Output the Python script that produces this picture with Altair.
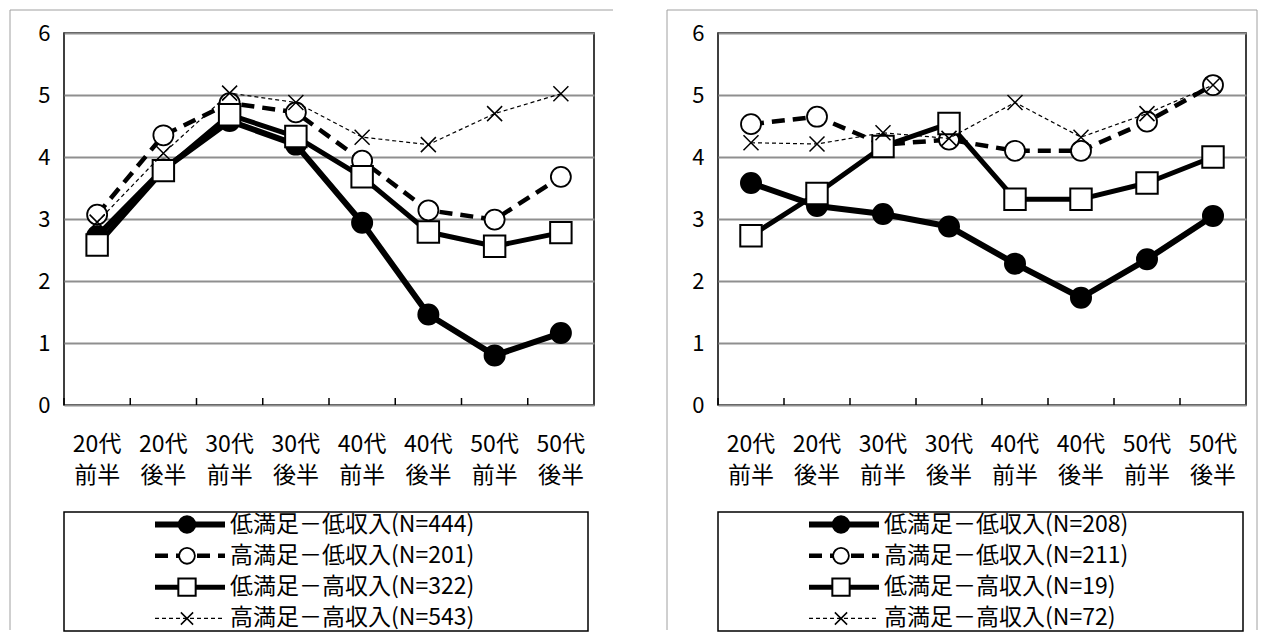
import altair as alt
import pandas as pd

# ---------------- data ----------------
ages = ["20代", "20代", "30代", "30代", "40代", "40代", "50代", "50代"]
halves = ["前半", "後半", "前半", "後半", "前半", "後半", "前半", "後半"]
categories = [f"{a}|{h}" for a, h in zip(ages, halves)]

series_left = ["低満足－低収入(N=444)", "高満足－低収入(N=201)",
               "低満足－高収入(N=322)", "高満足－高収入(N=543)"]
series_right = ["低満足－低収入(N=208)", "高満足－低収入(N=211)",
                "低満足－高収入(N=19)", "高満足－高収入(N=72)"]

left_ll = [2.72, 3.80, 4.58, 4.20, 2.94, 1.46, 0.80, 1.16]
left_hl = [3.07, 4.35, 4.87, 4.72, 3.94, 3.14, 2.99, 3.68]
left_lh = [2.58, 3.78, 4.68, 4.33, 3.68, 2.79, 2.56, 2.78]
left_hh = [2.95, 4.06, 5.03, 4.88, 4.32, 4.20, 4.70, 5.02]

right_ll = [3.58, 3.21, 3.08, 2.88, 2.28, 1.73, 2.35, 3.05]
right_hl = [4.53, 4.65, 4.20, 4.28, 4.10, 4.10, 4.57, 5.16]
right_lh = [2.73, 3.41, 4.17, 4.54, 3.32, 3.32, 3.58, 4.00]
right_hh = [4.23, 4.21, 4.39, 4.30, 4.88, 4.32, 4.70, 5.16]

# ---------------- styles ----------------
FONT = "Noto Sans CJK JP"
XPATH = "M-1,-1L1,1M-1,1L1,-1"
H = 372
styles = [
    dict(line=dict(strokeWidth=6), pt=dict(shape="circle", filled=True, fill="black", stroke="black", size=400),
         lpt=dict(size=270)),
    dict(line=dict(strokeWidth=4.5, strokeDash=[13, 8]),
         pt=dict(shape="circle", filled=True, fill="white", stroke="black", strokeWidth=1.8, size=400),
         lpt=dict(size=250)),
    dict(line=dict(strokeWidth=5), pt=dict(shape="square", filled=True, fill="white", stroke="black", strokeWidth=2, size=460),
         lpt=dict(size=300)),
    dict(line=dict(strokeWidth=1.2, strokeDash=[4, 3]),
         pt=dict(shape=XPATH, filled=False, stroke="black", strokeWidth=1.5, size=225),
         lpt=dict(size=150)),
]


def xenc(bandpos=0.5):
    return alt.X("cat:N", sort=categories, bandPosition=bandpos,
                 scale=alt.Scale(type="band", paddingInner=0, paddingOuter=0),
                 axis=alt.Axis(title=None, domain=False, ticks=False, labelAngle=0,
                               labelExpr="split(datum.label, '|')", labelFont=FONT,
                               labelFontSize=23, labelColor="black", labelLineHeight=31,
                               labelPadding=28, labelBaseline="top"))


yenc = alt.Y("value:Q", scale=alt.Scale(domain=[0, 6], nice=False),
             axis=alt.Axis(title=None, values=[0, 1, 2, 3, 4, 5, 6], domain=False, ticks=False,
                           grid=True, gridColor="#8f8f8f", gridWidth=2, labelFont=FONT,
                           labelFontSize=22, labelColor="black", labelPadding=14))


def line_panel(names, values, width, border):
    layers = []
    for name, vals, st in zip(names, values, styles):
        df = pd.DataFrame({"cat": categories, "value": vals, "series": name})
        layers.append(alt.Chart(df).mark_line(color="black", strokeJoin="round", **st["line"])
                      .encode(x=xenc(), y=yenc))
        layers.append(alt.Chart(df).mark_point(opacity=1, **st["pt"]).encode(x=xenc(), y=yenc))
    ticks = alt.Chart(pd.DataFrame({"cat": categories})).mark_rule(color="black", strokeWidth=1.5).encode(
        x=xenc(0), y=alt.value(H), y2=alt.value(H - 7))
    layers.append(ticks)
    bl, bt, br, bb = border
    one = pd.DataFrame({"k": [0]})
    gray = "#a0a0a0"
    layers.append(alt.Chart(one).mark_rule(color=gray, strokeWidth=1).encode(
        x=alt.value(bl), y=alt.value(bt), y2=alt.value(bb)))
    layers.append(alt.Chart(one).mark_rule(color=gray, strokeWidth=1).encode(
        x=alt.value(bl), x2=alt.value(br), y=alt.value(bt)))
    if br < 545:
        layers.append(alt.Chart(one).mark_rule(color=gray, strokeWidth=1).encode(
            x=alt.value(br), y=alt.value(bt), y2=alt.value(bb)))
    return alt.layer(*layers).properties(width=width, height=H)


def legend_panel(names, width):
    yl = alt.Y("series:N", sort=names, axis=None,
               scale=alt.Scale(type="point", domain=names, padding=0.4))
    layers = []
    for name, st in zip(names, styles):
        df = pd.DataFrame({"series": [name]})
        layers.append(alt.Chart(df).mark_rule(color="black", **st["line"]).encode(
            x=alt.value(91), x2=alt.value(161), y=yl))
        pt = dict(st["pt"])
        pt.update(st["lpt"])
        layers.append(alt.Chart(df).mark_point(opacity=1, **pt).encode(x=alt.value(123), y=yl))
        layers.append(alt.Chart(df).mark_text(align="left", baseline="middle", font=FONT, fontSize=23,
                                              color="black").encode(
            x=alt.value(166), y=yl, text="series:N"))
    return alt.layer(*layers).properties(width=width, height=119)


left = line_panel(series_left, [left_ll, left_hl, left_lh, left_hh], 530, (-54, -23, 549, 597))
right = line_panel(series_right, [right_ll, right_hl, right_lh, right_hh], 528, (-51, -23, 539, 597))
legL = legend_panel(series_left, 524)
legR = legend_panel(series_right, 525)

chart = alt.concat(left, right, legL, legR, columns=2, spacing={"row": 107, "column": 124},
                   bounds="flush").properties(padding=0, background="white").configure_view(
    stroke="black", strokeWidth=1.5)

chart.save("out.html", embed_options={"renderer": "svg", "actions": False})
